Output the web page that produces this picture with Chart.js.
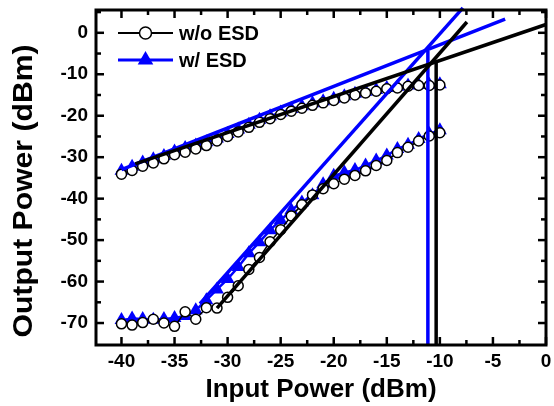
<!DOCTYPE html>
<html>
<head>
<meta charset="utf-8">
<script src="https://cdn.jsdelivr.net/npm/chart.js@4.4.1/dist/chart.umd.min.js"></script>
<style>
  html, body { margin: 0; padding: 0; background: #fff; }
  #wrap { width: 554px; height: 406px; }
</style>
</head>
<body>
<div id="wrap"><canvas id="myChart"></canvas></div>
<script>
// Input power sweep (dBm)
const inputPower = [-40, -39, -38, -37, -36, -35, -34, -33, -32, -31, -30, -29, -28, -27, -26, -25,
                    -24, -23, -22, -21, -20, -19, -18, -17, -16, -15, -14, -13, -12, -11, -10];

// Fundamental output power (dBm)
const fundWo = [-34.1, -33.2, -32.2, -31.4, -30.4, -29.4, -28.8, -28.0, -27.2, -26.1, -25.0, -23.9, -22.8, -21.6, -20.7, -19.7,
                -18.9, -18.2, -17.5, -16.9, -16.3, -15.7, -15.0, -14.5, -14.1, -13.5, -13.3, -12.9, -12.7, -12.7, -12.6];
const fundW  = [-33.3, -32.3, -31.3, -30.5, -29.7, -28.6, -27.8, -27.2, -26.4, -25.5, -24.4, -23.3, -22.2, -21.0, -20.1, -19.2,
                -18.4, -17.7, -17.0, -16.5, -15.9, -15.3, -14.7, -14.2, -13.8, -13.3, -13.0, -12.7, -12.5, -12.5, -12.4];

// Third-order intermodulation output (dBm)
const im3Wo = [-70.2, -70.5, -69.9, -69.1, -70.0, -70.8, -67.3, -69.1, -66.3, -66.4, -63.8, -61.0, -57.1, -54.2, -50.4, -47.5,
               -44.2, -41.5, -39.1, -37.6, -36.4, -35.3, -34.4, -33.3, -32.0, -30.8, -28.9, -27.6, -26.1, -24.9, -24.1];
const im3W  = [-69.3, -68.9, -69.0, -69.2, -69.0, -68.8, -68.3, -66.9, -64.5, -61.9, -59.4, -56.5, -53.2, -50.5, -47.6, -45.2,
               -42.8, -40.9, -39.2, -36.5, -34.5, -33.7, -33.1, -32.0, -30.8, -29.6, -28.0, -27.0, -25.6, -24.4, -23.5];

// Linear fits and intercept markers, [x, y] end points
const fitFundWo = [[-38.7, -31.6], [0, 2.0]];
const fitIm3Wo  = [[-31.0, -66.4], [-7.45, 2.6]];
const iipWo     = [[-10.35, -75.3], [-10.35, -6.7]];
const fitFundW  = [[-40.0, -33.0], [-3.85, 3.3]];
const fitIm3W   = [[-32.6, -65.3], [-7.83, 6.0]];
const iipW      = [[-11.13, -75.3], [-11.13, -4.3]];

const xTicks = [-40, -35, -30, -25, -20, -15, -10, -5, 0];
const xMinor = [-37.5, -32.5, -27.5, -22.5, -17.5, -12.5, -7.5, -2.5];
const yTicks = [0, -10, -20, -30, -40, -50, -60, -70];
const yMinor = [5, -5, -15, -25, -35, -45, -55, -65];

const BLUE = '#0000ff';
const FONT = '"Liberation Sans", Arial, sans-serif';
const pts = (ys) => inputPower.map((x, i) => ({ x: x, y: ys[i] }));
const seg = (p) => p.map(([x, y]) => ({ x: x, y: y }));

const fitLine = (data, color) => ({
    data: seg(data),
    borderColor: color,
    borderWidth: 3.5,
    pointRadius: 0,
    showLine: true,
    clip: false,
    order: color === BLUE ? 1 : 0
});

const blueSet = (ys) => ({
    data: pts(ys),
    showLine: true,
    borderColor: BLUE,
    borderWidth: 2.5,
    pointStyle: 'triangle',
    pointRadius: 8,
    pointBackgroundColor: BLUE,
    pointBorderColor: BLUE,
    pointBorderWidth: 0,
    order: 3
});

const blackSet = (ys) => ({
    data: pts(ys),
    showLine: true,
    borderColor: '#000',
    borderWidth: 1.5,
    pointStyle: 'circle',
    pointRadius: 5,
    pointBackgroundColor: '#fff',
    pointBorderColor: '#000',
    pointBorderWidth: 1.5,
    order: 2
});

// frame on all four sides with inward ticks
const frameTicks = {
    id: 'frameTicks',
    afterDraw(chart) {
        const { ctx, chartArea: a, scales: { x, y } } = chart;
        ctx.save();
        ctx.strokeStyle = '#000';
        ctx.lineWidth = 2.5;
        const line = (x1, y1, x2, y2) => { ctx.beginPath(); ctx.moveTo(x1, y1); ctx.lineTo(x2, y2); ctx.stroke(); };
        const xt = (v, len) => {
            const px = x.getPixelForValue(v);
            line(px, a.bottom, px, a.bottom - len);
            line(px, a.top, px, a.top + len);
        };
        const yt = (v, len) => {
            const py = y.getPixelForValue(v);
            line(a.left, py, a.left + len, py);
            line(a.right, py, a.right - len, py);
        };
        xTicks.forEach(v => xt(v, 8));
        xMinor.forEach(v => xt(v, 5));
        yTicks.forEach(v => yt(v, 8));
        yMinor.forEach(v => yt(v, 5));
        ctx.lineWidth = 3;
        ctx.strokeRect(a.left, a.top, a.right - a.left, a.bottom - a.top);

        // y axis title, drawn by hand so it can sit a bit lower and longer like the original
        ctx.fillStyle = '#000';
        ctx.font = 'bold 28px ' + FONT;
        ctx.textAlign = 'center';
        ctx.textBaseline = 'middle';
        const txt = 'Output Power (dBm)';
        const stretch = 293 / ctx.measureText(txt).width;
        ctx.translate(23, 191);
        ctx.rotate(-Math.PI / 2);
        ctx.scale(stretch, 1);
        ctx.fillText(txt, 0, 1);
        ctx.restore();
    }
};

// legend inside the plot, line + marker + label
const insideLegend = {
    id: 'insideLegend',
    afterDraw(chart) {
        const { ctx, chartArea: a } = chart;
        const x0 = a.left + 22, x1 = a.left + 77, xm = (x0 + x1) / 2;
        const rows = [
            { label: 'w/o ESD', color: '#000', y: a.top + 23, marker: 'circle' },
            { label: 'w/ ESD', color: BLUE, y: a.top + 50, marker: 'triangle' }
        ];
        ctx.save();
        rows.forEach(r => {
            ctx.strokeStyle = r.color;
            ctx.lineWidth = r.marker === 'circle' ? 2 : 3;
            ctx.beginPath(); ctx.moveTo(x0, r.y); ctx.lineTo(x1, r.y); ctx.stroke();
            if (r.marker === 'circle') {
                ctx.fillStyle = '#fff'; ctx.strokeStyle = '#000'; ctx.lineWidth = 1.5;
                ctx.beginPath(); ctx.arc(xm, r.y, 6, 0, Math.PI * 2); ctx.fill(); ctx.stroke();
            } else {
                ctx.fillStyle = BLUE;
                Chart.helpers.drawPoint(ctx, { pointStyle: 'triangle', radius: 9, borderWidth: 0 }, xm, r.y);
            }
            ctx.fillStyle = '#000';
            ctx.font = 'bold 20px ' + FONT;
            ctx.textBaseline = 'middle';
            ctx.textAlign = 'left';
            ctx.fillText(r.label, x1 + 6, r.y + 1);
        });
        ctx.restore();
    }
};

const tickFont = { family: FONT, size: 19, weight: 'bold' };
const titleFont = { family: FONT, size: 26, weight: 'bold' };

new Chart(document.getElementById('myChart'), {
    type: 'scatter',
    data: {
        datasets: [
            blueSet(fundW), blueSet(im3W),
            blackSet(fundWo), blackSet(im3Wo),
            fitLine(fitFundW, BLUE), fitLine(fitIm3W, BLUE), fitLine(iipW, BLUE),
            fitLine(fitFundWo, '#000'), fitLine(fitIm3Wo, '#000'), fitLine(iipWo, '#000')
        ]
    },
    options: {
        responsive: true,
        maintainAspectRatio: false,
        animation: false,
        layout: { padding: { left: 0, right: 6, top: 10, bottom: 0 } },
        scales: {
            x: {
                type: 'linear',
                min: -42.4,
                max: 0,
                afterBuildTicks: s => { s.ticks = xTicks.map(v => ({ value: v })); },
                afterFit: s => { s.height = 61; s.paddingLeft = 0; s.paddingRight = 0; },
                grid: { display: false, drawTicks: false },
                border: { display: false },
                ticks: { color: '#000', font: tickFont, padding: 5, maxRotation: 0, autoSkip: false },
                title: { display: true, text: 'Input Power (dBm)', color: '#000', font: titleFont, padding: { top: 0, bottom: 1 } }
            },
            y: {
                type: 'linear',
                min: -75.3,
                max: 5.5,
                afterBuildTicks: s => { s.ticks = yTicks.map(v => ({ value: v })); },
                afterFit: s => { s.width = 96; s.paddingTop = 0; s.paddingBottom = 0; },
                grid: { display: false, drawTicks: false },
                border: { display: false },
                ticks: { color: '#000', font: tickFont, padding: 8, autoSkip: false },
                title: { display: false }
            }
        },
        plugins: {
            legend: { display: false },
            tooltip: { enabled: false }
        }
    },
    plugins: [frameTicks, insideLegend]
});
</script>
</body>
</html>
